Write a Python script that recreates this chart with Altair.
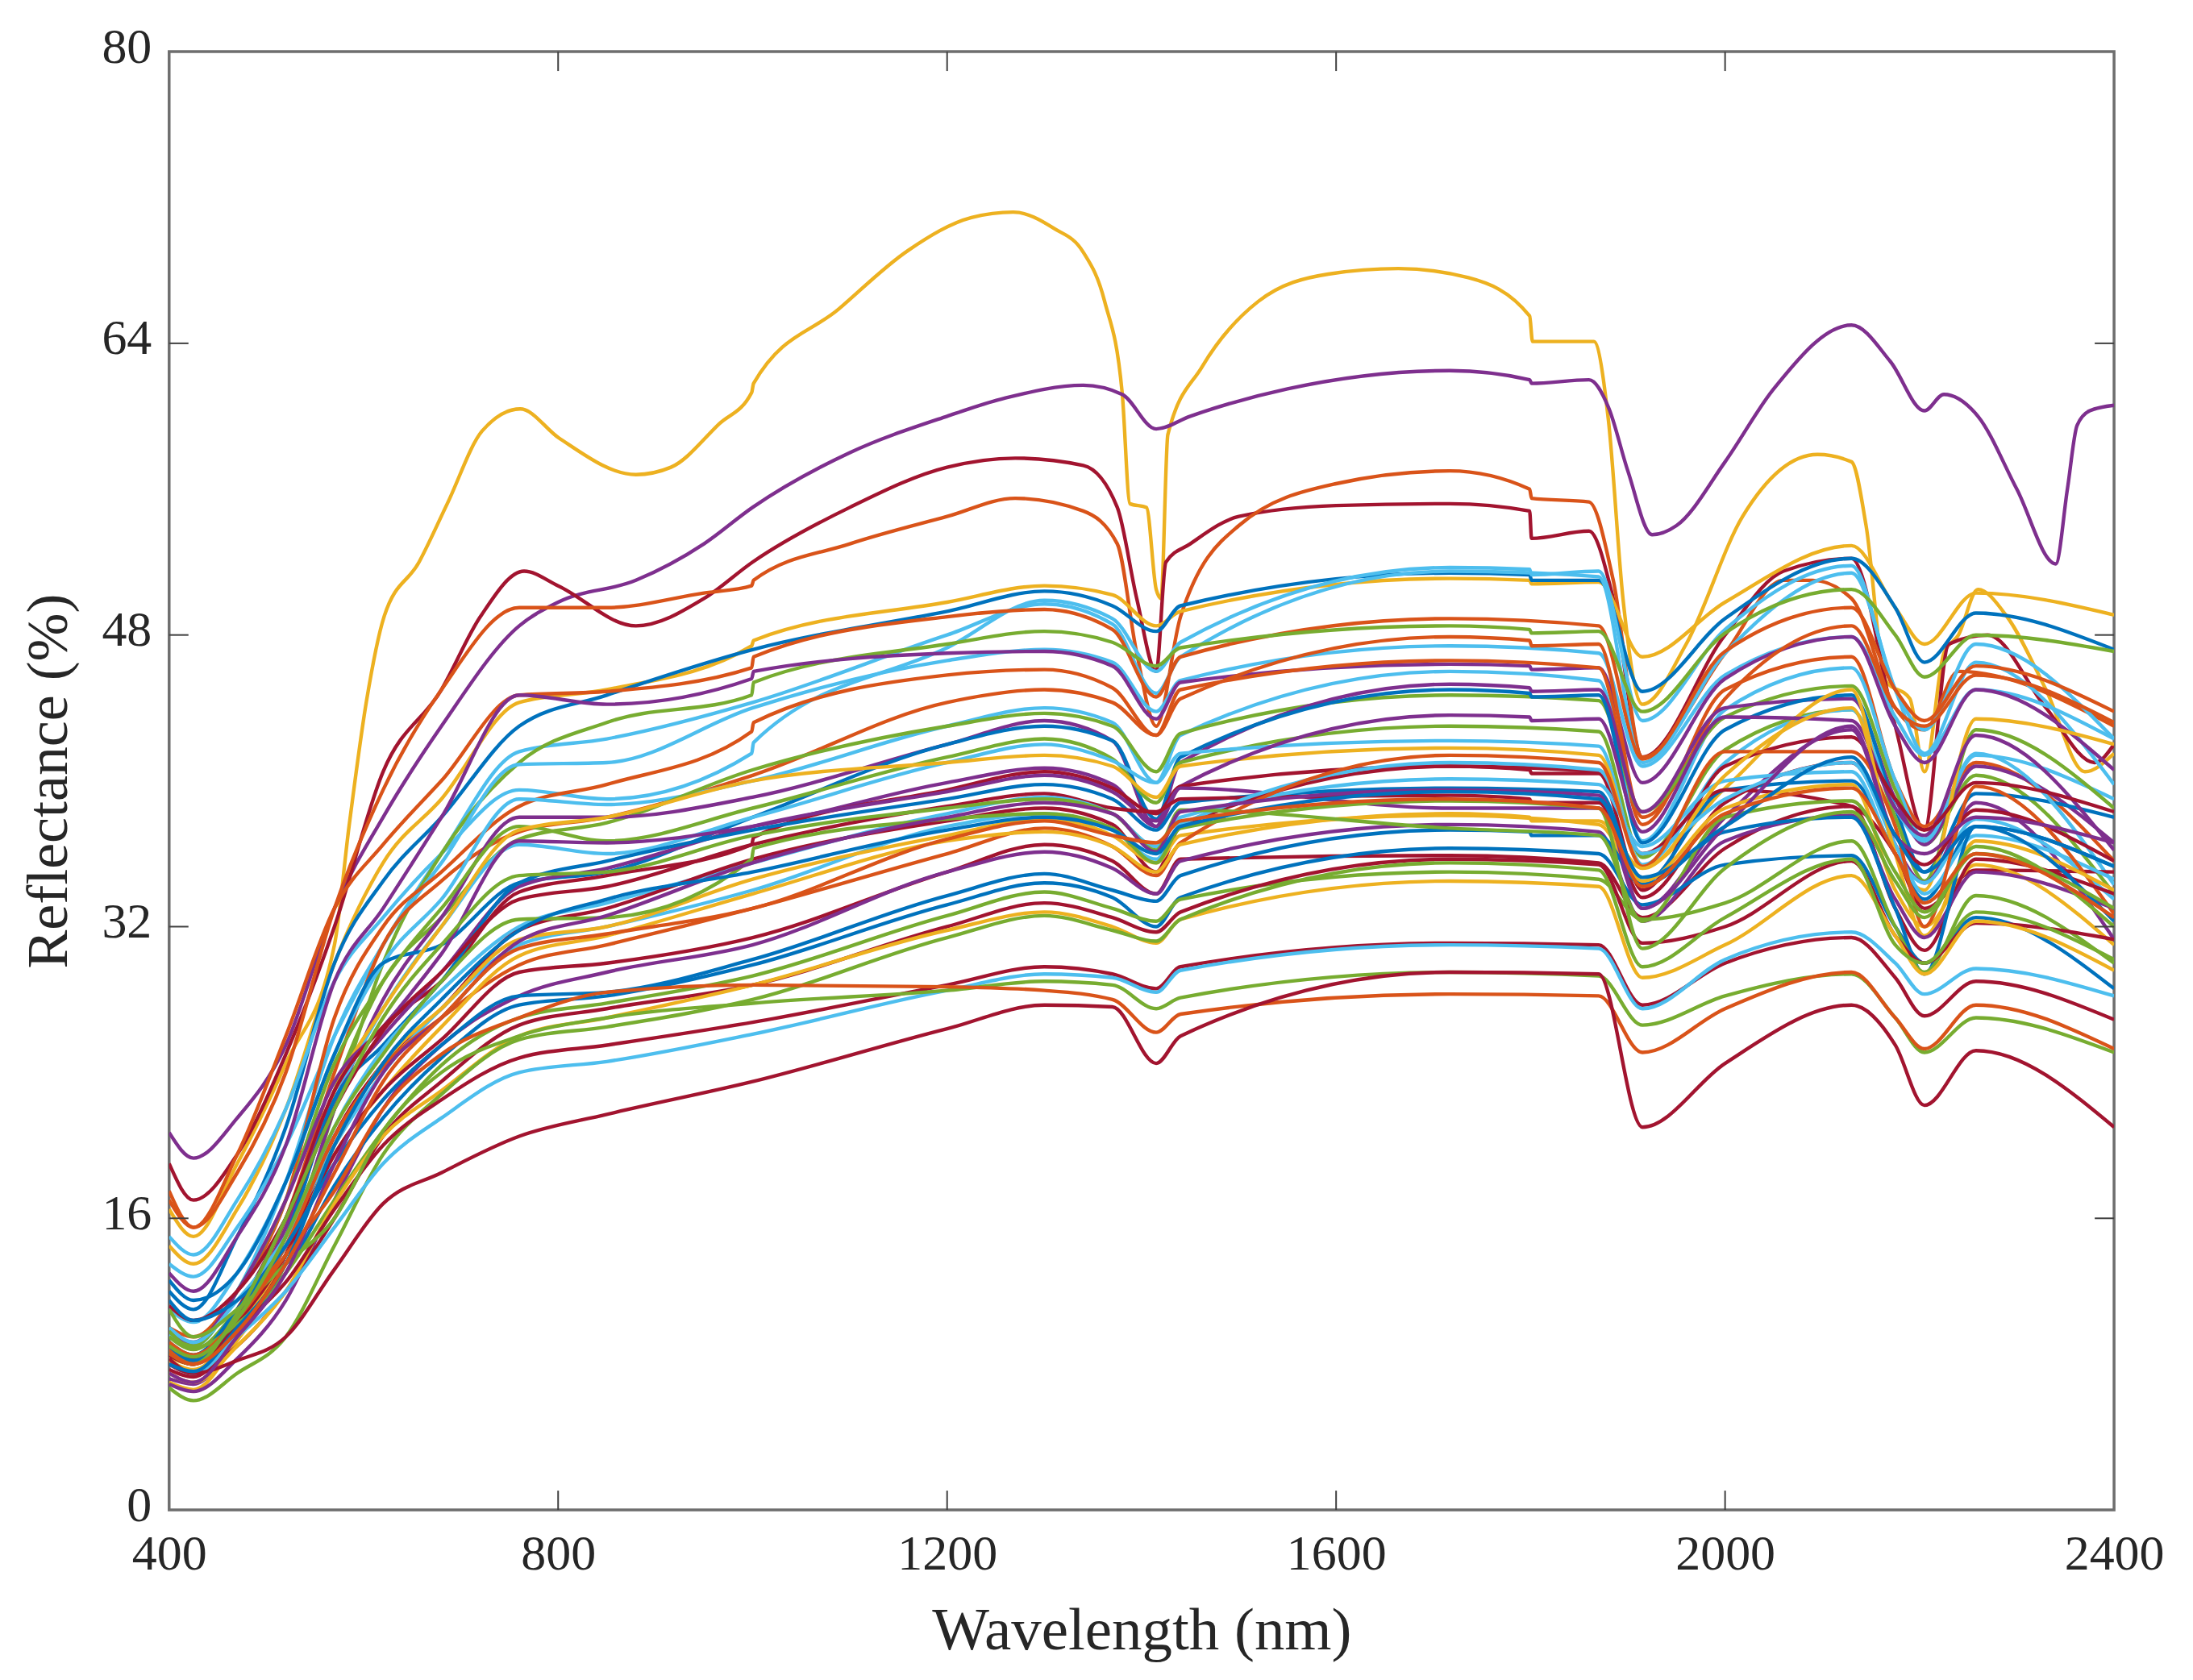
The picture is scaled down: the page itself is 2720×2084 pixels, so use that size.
import altair as alt
import pandas as pd

BLUE, ORANGE, YELLOW, PURPLE, GREEN, LIGHT, RED = "#0072BD", "#D95319", "#EDB120", "#7E2F8E", "#77AC30", "#4DBEEE", "#A2142F"

# wavelength knots shared by the ordinary spectra
KNOTS = [400,425,470,520,570,620,680,760,850,1000,1200,1300,1370,1415,1440,1717,1870,1915,2000,2130,2175,2205,2258,2400]

SPECTRA = [
 (YELLOW,[14.5,13.5,16.5,22,30,35.5,39,44.3,45,47.6,49.8,50.7,50.2,48.5,49.3,51.1,50.9,46.8,49.8,52.9,49.5,47.5,50.3,49.1]),
 (BLUE,  [12,11,15,21,30,34.5,38,43,44.7,47.2,49.3,50.4,49.6,48.2,49.6,51.4,51,44.9,48.9,52.2,49.5,46.5,49.2,47.2]),
 (LIGHT, [15,14,17,22,29,32.5,36,39.5,39,41.9,47.3,49.9,48.9,46,47.6,51.7,51.5,43.3,48.3,51.8,45,42.8,47.5,42.3]),
 (LIGHT, [13.5,12.8,15.5,20,26,31,36,41.6,42.3,44.3,48,49.7,48.6,44.8,46.8,51.5,51.2,41,47,51.4,45,41.5,46.5,39.8]),
 (ORANGE,[17.5,15.5,19.5,26,33,36.5,40,44.7,44.9,46.4,49,49.4,48.3,44.6,46.8,48.9,48.5,41.2,47.1,49.5,45,43.3,46.3,43.8]),
 (GREEN, [8,7.5,10,14,22,30,36,41,43.2,45,47.5,48.2,47.6,46.3,47.3,48.5,48.2,43.8,48.1,50.5,48,45.7,48,47.1]),
 (LIGHT, [9.6,9,12,18,26,31,35.5,40.9,41,44,46.6,47.2,46.5,43.8,45.5,47.4,47,40.8,45.8,47.9,43.5,41.4,45,42.3]),
 (PURPLE,[13,12,15,20,29,33,38,44.7,44.2,45.9,47,47.1,46.3,43.4,45.4,46.4,46.2,39.9,45.6,47.9,43,41,45,40.6]),
 (ORANGE,[10,9.5,12,17,27,32,35,38.6,39.8,43,45.8,46.1,45.1,42.5,44.5,47.9,47.5,38,44.5,48.5,44,43,45.8,43.2]),
 (ORANGE,[9,8.5,11,16,24,31,34.5,37.2,38,40.3,44.3,45,44.3,42.5,45,46.6,46.2,37.6,45,46.8,40,37.5,41,35.6]),
 (LIGHT, [11,10.3,13,18,25,30,33.5,39,38.7,40,43,44,43.2,39.9,42.5,46,45.5,36.7,43.9,46.2,40,36.8,41.4,39]),
 (GREEN, [9.5,8.8,11,15,23,29,32.5,36.8,37.7,40.6,43,43.7,43,40.5,42.6,44.7,44.4,38.3,43.5,45.2,39.5,36.5,40.3,33.8]),
 (PURPLE,[7.2,6.9,9.5,14,22,28,32.5,38,38,39.1,42,43.3,42.2,37.5,41,45.3,45,38.3,44,44.5,39,36.5,40.8,36.6]),
 (BLUE,  [12.6,11.5,13,18,25,30,31,34.4,35,38,42,43,42.2,37.9,41.3,45,44.7,36.6,42.8,44.7,38.5,35,39.3,38]),
 (GREEN, [10,9,12,17,24.5,29,33,37.5,36.7,38.5,41.3,42.3,41.2,38.8,41,43,42.7,35.8,41.7,43.9,38,34.5,42.8,38.5]),
 (LIGHT, [8.5,8.2,11,16,22.5,27.5,32,36.5,36,38,41,42,41.1,39.9,41.5,42.2,41.9,35.4,41,43.9,38.5,36.7,41.5,34.3]),
 (YELLOW,[8.4,8,10.8,15.5,23,27.5,32,37.3,38,40,41,41.4,40.8,39.1,40.8,41.8,41.4,35.3,39.6,45,36,34,43.4,42]),
 (PURPLE,[9.8,9.2,12,17,23.5,26.5,30.5,36.7,36.6,37.5,39.9,40.7,39.8,37.5,39.7,43.6,43.4,37.2,43.5,43.3,38.5,37,42.5,36.2]),
 (RED,   [8.5,8,11,16,23,26.5,29,33.9,34.8,36.7,39.5,40.5,39.6,38.2,39.7,40.8,40.4,34,40.8,42.4,39,37.3,39.9,38.3]),
 (PURPLE,[8,7.5,10.5,15.5,22.5,26,29.5,34.2,35.2,37.5,39.4,40.3,39.4,37.8,39.6,38.5,38.5,33,38,42.8,36.5,34.4,38.8,31.3]),
 (BLUE,  [9.2,8.5,11,15,22.5,25.5,29,34.4,35.6,37.3,39,39.8,39,37.3,38.8,39.6,39.4,34.4,39.5,40,36,33.5,37.5,35.3]),
 (RED,   [11.2,10.4,12,16,22,26.3,29.5,33.5,34.2,36.5,38.6,39.3,38.5,38.3,39,39.2,38.8,33.6,38.8,41,37,35.4,38.4,35.6]),
 (LIGHT, [8.8,8.3,10.5,14.5,21,25.3,28.5,32,33.3,35.5,38.2,39.1,38.2,36.4,38,40.1,39.8,36.4,40,40.5,36,34.4,37.9,33.5]),
 (RED,   [7.7,7.3,9.8,14,20.5,24.5,27.5,31.8,33,35.7,37.8,38.5,37.6,35,37.5,40.8,40.5,36,39.5,38.6,36,33,35.1,35]),
 (LIGHT, [10,9.2,11.5,15,20,24,27.5,31,32,34,37.5,38.2,37.3,35.7,37.6,41,40.6,36,39,41,36.5,33.8,37,34.6]),
 (YELLOW,[7,6.6,9.3,13.5,20,24.5,27.5,31.3,32,34.6,37,37.9,37,35.5,37,38.1,37.6,34.5,38.5,39.8,34,32,35.4,31]),
 (ORANGE,[8.8,8.2,10.5,14.5,20.5,24.3,27,29.9,31,33,36,37.4,36.4,34.8,36.6,41.4,41,35.3,41.6,41.6,37.5,32,39.7,32.7]),
 (YELLOW,[8.2,7.7,10,14,19.5,23,26.5,30.4,31.5,33.8,36.7,37.2,36.4,35,36.5,38.2,37.8,35.2,40.3,44,36,31.5,36.7,34]),
 (RED,   [9,8.3,10.3,14,19.5,23,25.8,29.5,30,31.4,35,36.5,35.6,33.8,35.7,35.9,35.5,32.5,36.3,38.6,33,30.7,35.7,33.8]),
 (PURPLE,[6.9,6.5,8.3,11.5,17,22,25.5,28.2,29.5,31,35,36.1,35.2,33.8,35.6,37.6,37.2,32.3,36.7,38.1,33.5,31.4,35,33]),
 (BLUE,  [11.5,10.4,11.5,14.5,19,22.5,25.5,28.2,28.4,30.2,33.7,34.9,34,33.4,34.8,37.3,37,34.3,37.2,38,33,29.4,37.5,32.3]),
 (BLUE,  [9,8.2,10,13,17.8,21.5,24.8,27.7,28.2,29.9,33.2,34.4,33.6,32,33.6,36.3,36,33.2,35.4,35.9,32,30,32.5,28.6]),
 (GREEN, [9.8,8.9,10.2,13,17,20.8,24.4,27,27.8,29.3,32.6,33.9,33,32.3,33.5,35,34.6,32.4,33.3,36.7,32,29.5,33.7,30]),
 (RED,   [8.3,7.5,9,12,16,20.5,23.5,26.6,27.5,28.8,32,33.3,32.5,31.7,32.8,35.7,35.4,31.1,32,35.6,31.5,30,32.2,31.3]),
 (YELLOW,[7.5,7,9,12,16.8,20.5,23,26,27,28.8,31.8,32.8,32,31.1,32.4,34.5,34.2,29.2,31,34.8,31.5,29.4,32.3,29.6]),
 (GREEN, [6.7,6,7.5,9.5,14.5,19.5,22.8,25.8,26.5,28,31.4,32.6,31.8,31.2,32.4,35.5,35.1,29.8,32.5,35.7,31,30,32.8,30.2]),
 (RED,   [8.5,8,10,12.5,16.5,20,22.5,24.8,25.5,26.75,28.8,29.8,29.4,28.6,29.8,31.1,31,27.7,30,31.4,29.2,27.1,29,26.9]),
 (LIGHT, [8,7.5,9.5,12,15.5,19,21.5,24,24.6,26.1,28.5,29.4,29.2,28.4,29.6,31,30.8,27.5,30.2,31.7,30,28.3,29.7,28.2]),
 (GREEN, [11,9.5,11,13.5,16,20.8,24,26,27,27.8,28.5,29,28.8,27.5,28.1,29.5,29.3,26.6,28.2,29.4,27,25.1,27,25.1]),
 (ORANGE,[9.2,8.5,10.5,14,17.5,22,25,27,28.4,28.8,28.7,28.5,28,26.2,27.2,28.3,28.2,25.1,27.5,29.5,27,25.3,27.7,25.3]),
 (RED,   [8,7.5,8.2,9.5,13.2,16.8,18.5,20.5,21.7,23.5,26.4,27.7,27.6,24.5,26,29.5,29.4,21,24.5,27.7,25.5,22.2,25.2,21]),
 (GREEN, [9,8.4,10.5,15,21,25,29,32.4,32.5,36,37.9,38.2,37.4,35.5,37.4,38.9,38.5,30.8,35.2,38.3,34.5,32.5,36.4,32]),
 (GREEN, [8.6,8,10.8,16,22,27,31,34.8,35,37,38.5,39,38.2,36.2,38.4,37.4,37,32.3,38,38.9,35,32.8,36,33]),
 (PURPLE,[7.5,7,9.5,13,19,24,27,31.2,32.6,35.5,38,38.8,38.2,36.1,38.3,39.5,39.2,33,37.5,43,37,36,38,36.6]),
 (BLUE,  [8,7.6,10,13.5,20,24.5,28,31.8,33.5,35,37.3,38,37.3,36,37.5,39.4,39,34.7,37.5,41.3,37,35,37.5,35.3]),
 (ORANGE,[8.6,8,9.8,13.5,18.5,23.5,27,30.8,31.6,33,36.8,37.8,37,36.6,37.8,39,38.5,34.2,38.2,39.6,36,33.3,36,32.5]),
]

# visible detector joins: row -> {wavelength: value}
JOINS = {
 0: {999: 47.4, 1001: 47.7, 1799: 51.0, 1801: 50.8},
 1: {1799: 51.3, 1801: 51.0},
 2: {999: 41.5, 1001: 42.1, 1799: 51.6, 1801: 51.3},
 4: {999: 46.2, 1001: 46.8},
 5: {999: 44.7, 1001: 45.4, 1799: 48.3, 1801: 48.1},
 7: {999: 45.6, 1001: 46.0, 1799: 46.3, 1801: 46.1},
 8: {999: 42.7, 1001: 43.2, 1799: 47.7, 1801: 47.4},
 12: {1799: 45.1, 1801: 44.9},
 13: {1799: 44.8, 1801: 44.6},
 17: {1799: 43.5, 1801: 43.3},
 18: {999: 36.5, 1001: 36.9, 1799: 40.6, 1801: 40.4},
 21: {1799: 39.0, 1801: 38.8},
 27: {1799: 38.0, 1801: 37.8},
 30: {1799: 37.2, 1801: 37.0},
 41: {999: 35.7, 1001: 36.3},
}

# spectra with sharper features carry their own knots
YELLOW_TOP_X = [400,425,470,520,570,585,603,621,657,686,722,761,801,880,916,966,999,1001,1089,1160,1225,1268,1310,1340,1362,1380,1388,1405,1415,1420,1427,1462,1520,1592,1664,1736,1799,1802,1865,1880,1895,1915,1960,2018,2095,2130,2145,2165,2190,2205,2225,2240,2260,2290,2330,2370,2400]
YELLOW_TOP_Y = [16.5,15,19,24.5,31,37.5,44.4,49,52,55.2,59.2,60.4,58.8,56.8,57.2,59.6,61.3,61.8,65.9,69.1,70.9,71.2,70.3,69,66.3,61.3,55.2,55,50.5,50,59,62.7,66.3,67.8,68.1,67.6,65.5,64.1,64.1,59.8,50,44.2,47.5,54.5,57.9,57.5,54,45.5,44.5,40.5,47,48,50.5,49,45,40.5,41.5]
PURPLE_TOP_X = [400,425,470,520,570,620,680,760,800,880,950,1000,1100,1200,1260,1340,1380,1415,1450,1550,1717,1799,1801,1860,1880,1900,1925,1950,2000,2050,2130,2170,2205,2225,2260,2300,2340,2352,2362,2375,2400]
PURPLE_TOP_Y = [20.7,19.3,21.5,25.5,33,38,43,48.5,49.8,51,53,55,58,60,61,61.7,61.2,59.3,60,61.5,62.5,62,61.8,62,60.5,57,53.5,54,57.5,61.5,65,63,60.3,61.2,60,56,51.9,56,59.5,60.3,60.6]
RED_TOP_X = [400,425,470,520,570,620,680,720,765,800,880,950,1000,1100,1200,1270,1340,1375,1395,1415,1425,1450,1500,1600,1717,1799,1801,1860,1885,1915,2000,2060,2130,2175,2205,2230,2270,2330,2380,2400]
RED_TOP_Y = [19,17,19.5,25,32,40.5,45,49,51.5,50.7,48.5,50,52,55,57.2,57.7,57.3,55,50,46,52,53,54.5,55.1,55.2,54.8,53.3,53.7,50,41.3,48,51.5,52.2,43,37.3,47.5,48,44,41,42]
ORANGE_TOP_X = [400,425,470,520,570,620,680,760,850,950,999,1001,1100,1200,1270,1340,1375,1395,1415,1440,1500,1600,1717,1799,1801,1860,1885,1915,2000,2060,2090,2130,2175,2205,2240,2400]
ORANGE_TOP_Y = [17,15.5,18.5,24,33,39.5,45,49.5,49.5,50.3,50.7,51,53,54.5,55.5,54.8,53,47,43,49,54,56.3,57,56,55.5,55.3,51,41.3,47,51,51,50,44,42.8,46,43]

X_TICKS = [400, 800, 1200, 1600, 2000, 2400]
Y_TICKS = [0, 16, 32, 48, 64, 80]

rows = []
def add(name, color, xs, ys):
    for x, y in zip(xs, ys):
        rows.append({"series": name, "colour": color, "wl": x, "refl": y})

add("top1", YELLOW, YELLOW_TOP_X, YELLOW_TOP_Y)
add("top2", PURPLE, PURPLE_TOP_X, PURPLE_TOP_Y)
add("top3", RED, RED_TOP_X, RED_TOP_Y)
add("top4", ORANGE, ORANGE_TOP_X, ORANGE_TOP_Y)
for i, (c, ys) in enumerate(SPECTRA):
    pts = dict(zip(KNOTS, ys))
    pts.update(JOINS.get(i, {}))
    if 1000 in pts and 999 in pts:
        del pts[1000]
    xs = sorted(pts)
    add(f"s{i}", c, xs, [pts[x] for x in xs])
df = pd.DataFrame(rows)

W, H = 2415, 1811
FONT = "Liberation Serif"
x_scale = alt.Scale(domain=[400, 2400], nice=False, zero=False)
y_scale = alt.Scale(domain=[0, 80], nice=False, zero=False)

lines = alt.Chart(df).mark_line(interpolate="monotone", strokeWidth=4.4, clip=True).encode(
    x=alt.X("wl:Q", scale=x_scale, axis=alt.Axis(
        title="Wavelength (nm)", values=X_TICKS, grid=False, domain=False, tickSize=0, format="d",
        labelFont=FONT, labelFontSize=62, labelColor="#262626", labelPadding=25,
        titleFont=FONT, titleFontSize=75, titleFontWeight="normal", titleColor="#262626", titlePadding=28,
        labelFlush=False, labelOverlap=False)),
    y=alt.Y("refl:Q", scale=y_scale, axis=alt.Axis(
        title="Reflectance (%)", values=Y_TICKS, grid=False, domain=False, tickSize=0, format="d",
        labelFont=FONT, labelFontSize=62, labelColor="#262626", labelPadding=22, labelOffset=-6,
        titleFont=FONT, titleFontSize=72, titleFontWeight="normal", titleColor="#262626", titlePadding=28,
        labelFlush=False, labelOverlap=False)),
    color=alt.Color("colour:N", scale=None),
    detail="series:N",
)

xt = pd.DataFrame({"t": X_TICKS[1:-1]})
yt = pd.DataFrame({"t": Y_TICKS[1:-1]})
TL = 24
tick = dict(color="#404040", strokeWidth=2)
x_bot = alt.Chart(xt).mark_rule(**tick).encode(x=alt.X("t:Q", scale=x_scale), y=alt.value(H), y2=alt.value(H - TL))
x_top = alt.Chart(xt).mark_rule(**tick).encode(x=alt.X("t:Q", scale=x_scale), y=alt.value(0), y2=alt.value(TL))
y_left = alt.Chart(yt).mark_rule(**tick).encode(y=alt.Y("t:Q", scale=y_scale), x=alt.value(0), x2=alt.value(TL))
y_right = alt.Chart(yt).mark_rule(**tick).encode(y=alt.Y("t:Q", scale=y_scale), x=alt.value(W), x2=alt.value(W - TL))

chart = alt.layer(lines, x_bot, x_top, y_left, y_right).properties(
    width=W, height=H, background="white",
    padding={"left": 202, "top": 55, "right": 90, "bottom": 200},
    autosize=alt.AutoSizeParams(type="none"),
).configure_view(stroke="#6e6e6e", strokeWidth=3.5)

chart.save("out.html", embed_options={"renderer": "svg", "actions": False})
